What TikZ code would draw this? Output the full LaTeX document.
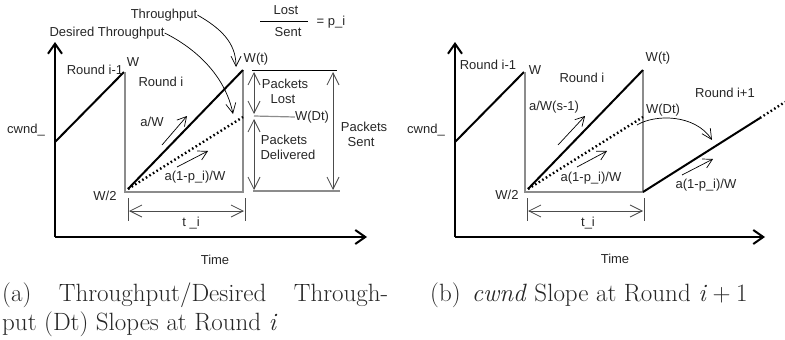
\documentclass[tikz,border=0pt]{standalone}
\usepackage{fontspec}
\newfontfamily\plotfont{Liberation Sans}
\usetikzlibrary{arrows.meta,positioning}
\tikzset{axisline/.style={
    % The line:
    line width=2pt,
    % The tip:
    -{Straight Barb[length=10pt,width=14pt,line width=2pt]},
    },
    cwndline/.style={
    line width=2pt,
    },
    roundbox/.style={
    draw=black!45,
    line width=1.6pt,
    },
    dtline/.style={
    line width=2.4pt,
    dash pattern=on 1.6pt off 2.6pt,
    },
    slopearrow/.style={
    line width=0.7pt,
    -{Straight Barb[length=9pt,width=10pt,line width=0.7pt]},
    },
    bendarrow/.style={
    line width=0.7pt,
    -{Straight Barb[length=10pt,width=10pt,line width=0.7pt]},
    },
    dimarrow/.style={
    draw=black!70,
    line width=0.8pt,
    {Straight Barb[length=12pt,width=12pt,line width=0.8pt]}-{Straight Barb[length=12pt,width=12pt,line width=0.8pt]},
    },
    dimtick/.style={
    draw=black!70,
    line width=1pt,
    },
    plotlabel/.style={
    % Font
    font=\plotfont\fontsize{13}{15}\selectfont,
    text=black!85,
    inner sep=0pt,
    },
    subcap/.style={
    font=\fontsize{25}{29}\selectfont,
    text=black!85,
    inner sep=0pt,
    anchor=base west,
    },
}

\begin{document}
\begin{tikzpicture}[x=1pt,y=-1pt,node distance = 5pt and 0pt]
    \useasboundingbox (0,0) rectangle (785,340);

    % (a) Throughput / Desired Throughput
    \coordinate (a-origin) at (55,237);
    \coordinate (a-ytop)   at (55,42);
    \coordinate (a-xend)   at (367,237);
    \coordinate (a-cwnd)   at (55,142);
    \coordinate (a-w)      at (124,72);
    \coordinate (a-half)   at (128,189);
    \coordinate (a-wt)     at (243,70);
    \coordinate (a-wdt)    at (243,117);

    \draw[axisline] (a-origin) -- (a-ytop);
    \draw[axisline] (a-origin) -- (a-xend);
    \draw[cwndline] (a-cwnd) -- (a-w);
    \draw[roundbox] (125,72) -- (125,192) -- (243,192) -- (243,70);
    \draw[dtline] (a-half) -- (a-wdt);
    \draw[cwndline] (a-half) -- (a-wt);

    \node (a-cwndlbl) [plotlabel] at (26,130)  {cwnd\_};
    \node (a-prev)    [plotlabel] at (95,70)   {Round i-1};
    \node (a-wlbl)    [plotlabel] at (133,62)  {W};
    \node (a-round)   [plotlabel] at (161,82)  {Round i};
    \node (a-slope)   [plotlabel] at (152,122) {a/W};
    \node (a-dslope)  [plotlabel] at (195,177) {a(1-p\_i)/W};
    \node (a-halflbl) [plotlabel] at (105,196) {W/2};
    \node (a-ti)      [plotlabel] at (191,223) {t \_i};
    \node (a-time)    [plotlabel] at (215,260) {Time};
    \node (a-wtlbl)   [plotlabel] at (256,59)  {W(t)};
    \node (a-wdtlbl)  [plotlabel] at (312,117) {W(Dt)};

    \coordinate (a-s1) at (162,145);
    \coordinate (a-s2) at (187,116);
    \coordinate (a-d1) at (177,167);
    \coordinate (a-d2) at (208,151);
    \draw[slopearrow] (a-s1) -- (a-s2);
    \draw[slopearrow] (a-d1) -- (a-d2);

    % t_i
    \draw[dimtick] (128,198) -- (128,221);
    \draw[dimtick] (245,198) -- (245,221);
    \coordinate (a-t1) at (129,211);
    \coordinate (a-t2) at (244,211);
    \draw[dimarrow] (a-t1) -- (a-t2);

    % packets
    \draw[thin] (252,70) -- (337,70);
    \draw[roundbox,line width=1.2pt] (254,116) -- (a-wdtlbl.west);
    \draw[roundbox,line width=1.2pt] (253,191) -- (340,191);
    \coordinate (a-lost1) at (254,72);
    \coordinate (a-lost2) at (254,114);
    \coordinate (a-del1)  at (254,119);
    \coordinate (a-del2)  at (254,190);
    \coordinate (a-sent1) at (333,72);
    \coordinate (a-sent2) at (333,190);
    \draw[dimarrow] (a-lost1) -- (a-lost2);
    \draw[dimarrow] (a-del1) -- (a-del2);
    \draw[dimarrow] (a-sent1) -- (a-sent2);

    \node (a-pkt1)  [plotlabel] at (285,84)  {Packets};
    \node (a-lost)  [plotlabel,below=of a-pkt1,xshift=-2pt] {Lost};
    \node (a-pkt2)  [plotlabel] at (284,140) {Packets};
    \node (a-deliv) [plotlabel,below=of a-pkt2,xshift=4pt] {Delivered};
    \node (a-pkt3)  [plotlabel] at (364,127) {Packets};
    \node (a-sent)  [plotlabel,below=of a-pkt3,xshift=-3pt] {Sent};

    % Lost / Sent = p_i
    \node (a-num)  [plotlabel] at (286,10) {Lost};
    \node (a-den)  [plotlabel] at (288,32) {Sent};
    \draw[thin] (260,21) -- (308,21);
    \node (a-pi)   [plotlabel] at (331,22) {= p\_i};

    \node (a-tput)  [plotlabel] at (164,15) {Throughput};
    \node (a-dtput) [plotlabel] at (107,33) {Desired Throughput};
    \coordinate (a-tputend)  at (236,67);
    \coordinate (a-dtputend) at (233,114);
    \draw[bendarrow] (a-tput.east) .. controls (220,28) and (236,42) .. (a-tputend);
    \draw[bendarrow] (a-dtput.east) .. controls (195,48) and (225,75) .. (a-dtputend);

    % (b) cwnd slope at round i+1
    \coordinate (b-origin) at (455,237);
    \coordinate (b-ytop)   at (455,42);
    \coordinate (b-xend)   at (765,237);
    \coordinate (b-cwnd)   at (455,142);
    \coordinate (b-w)      at (524,72);
    \coordinate (b-half)   at (528,189);
    \coordinate (b-wt)     at (643,70);
    \coordinate (b-wdt)    at (643,117);
    \coordinate (b-next)   at (643,192);
    \coordinate (b-nextw)  at (760,118);
    \coordinate (b-nextdt) at (785,102);

    \draw[axisline] (b-origin) -- (b-ytop);
    \draw[axisline] (b-origin) -- (b-xend);
    \draw[cwndline] (b-cwnd) -- (b-w);
    \draw[roundbox] (525,72) -- (525,192) -- (643,192) -- (643,70);
    \draw[dtline] (b-half) -- (b-wdt);
    \draw[cwndline] (b-half) -- (b-wt);
    \draw[cwndline] (b-next) -- (b-nextw);
    \draw[dtline] (b-nextw) -- (b-nextdt);

    \node (b-cwndlbl) [plotlabel] at (426,130) {cwnd\_};
    \node (b-prev)    [plotlabel] at (488,65)  {Round i-1};
    \node (b-wlbl)    [plotlabel] at (535,70)  {W};
    \node (b-round)   [plotlabel] at (582,78)  {Round i};
    \node (b-slope)   [plotlabel] at (554,107) {a/W(s-1)};
    \node (b-dslope)  [plotlabel] at (591,178) {a(1-p\_i)/W};
    \node (b-halflbl) [plotlabel] at (507,195) {W/2};
    \node (b-ti)      [plotlabel] at (588,223) {t\_i};
    \node (b-time)    [plotlabel] at (615,259) {Time};
    \node (b-wtlbl)   [plotlabel] at (658,58)  {W(t)};
    \node (b-wdtlbl)  [plotlabel] at (663,110) {W(Dt)};
    \node (b-nround)  [plotlabel] at (725,93)  {Round i+1};
    \node (b-nslope)  [plotlabel] at (706,185) {a(1-p\_i)/W};

    \coordinate (b-s1) at (558,145);
    \coordinate (b-s2) at (585,116);
    \coordinate (b-d1) at (577,167);
    \coordinate (b-d2) at (607,151);
    \coordinate (b-n1) at (682,175);
    \coordinate (b-n2) at (713,159);
    \draw[slopearrow] (b-s1) -- (b-s2);
    \draw[slopearrow] (b-d1) -- (b-d2);
    \draw[slopearrow] (b-n1) -- (b-n2);

    \draw[dimtick] (527,198) -- (527,221);
    \draw[dimtick] (644,198) -- (644,221);
    \coordinate (b-t1) at (528,211);
    \coordinate (b-t2) at (643,211);
    \draw[dimarrow] (b-t1) -- (b-t2);

    \coordinate (b-carry1) at (637,125);
    \coordinate (b-carry2) at (712,140);
    \draw[bendarrow] (b-carry1) .. controls (655,114) and (695,114) .. (b-carry2);

    % captions
    \node (cap-a1) [subcap] at (2,301) {\makebox[386pt][s]{(a) Throughput/Desired Through-}};
    \node (cap-a2) [subcap] at (2,330) {put (Dt) Slopes at Round \textit{i}};
    \node (cap-b)  [subcap] at (430,301) {(b)\hspace{0.45em}\textit{cwnd} Slope at Round \textit{i}\hspace{0.22em}+\hspace{0.22em}1};
\end{tikzpicture}
\end{document}
